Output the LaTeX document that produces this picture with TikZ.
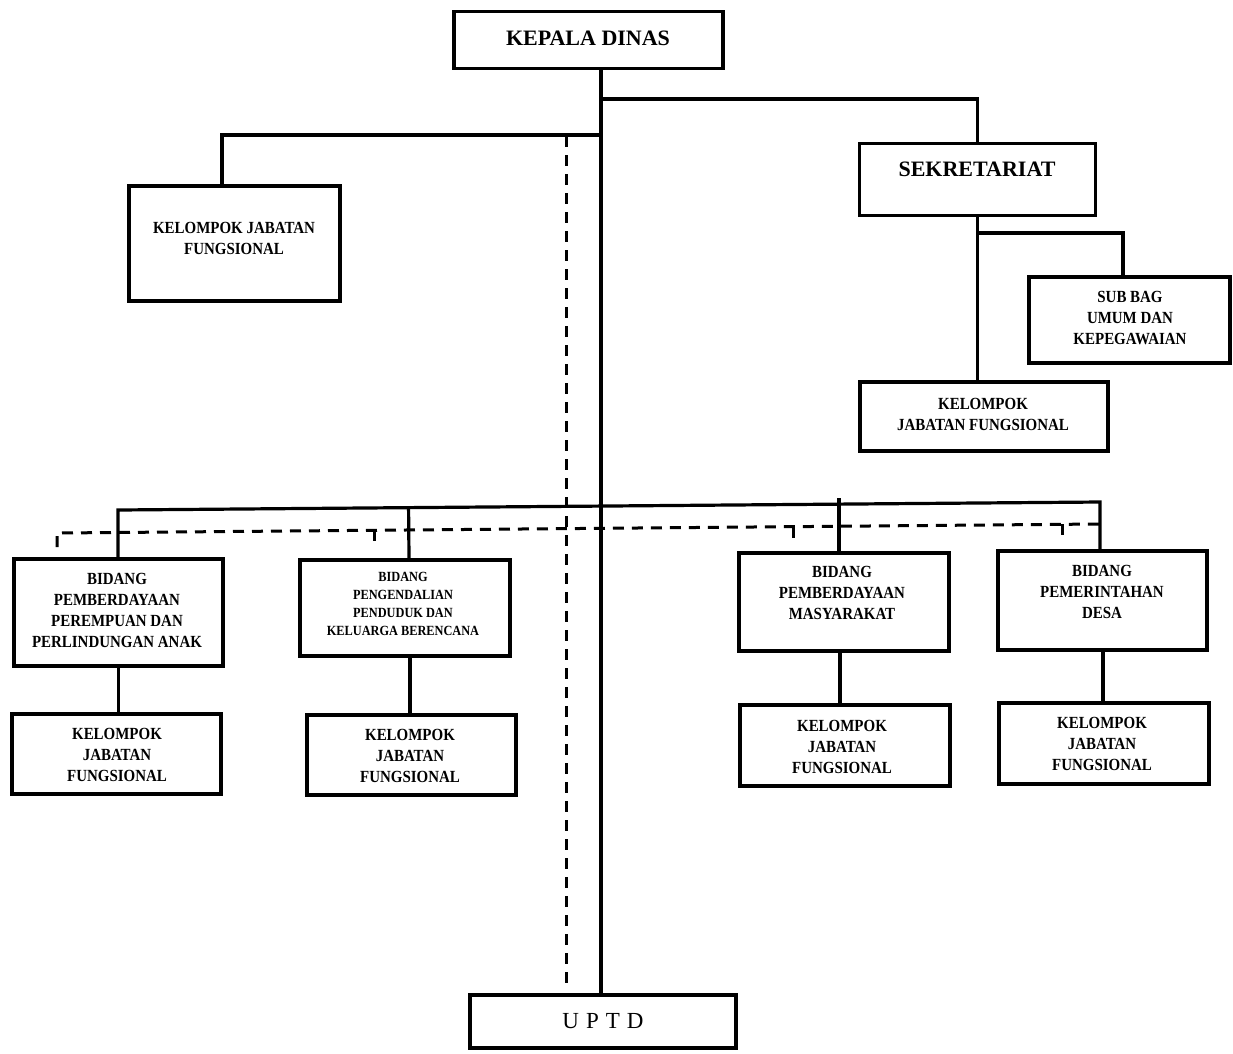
\documentclass[tikz,border=0pt]{standalone}
\usepackage{fontspec}
\setmainfont{Liberation Serif}
\newfontfamily\condfont{Liberation Serif}[FakeStretch=0.88]
\usetikzlibrary{calc}
\begin{document}
\begin{tikzpicture}[x=1pt,y=-1pt,
  box/.style={draw, line width=3.5pt, rectangle, inner sep=0pt},
  txt/.style={align=center, font=\condfont\bfseries\fontsize{17}{21}\selectfont, inner sep=0pt},
  smalltxt/.style={align=center, font=\condfont\bfseries\fontsize{14}{18}\selectfont, inner sep=0pt},
  bigtxt/.style={align=center, font=\bfseries\fontsize{22}{26}\selectfont, inner sep=0pt},
  con/.style={line width=3.2pt},
  dsh/.style={line width=3pt, dash pattern=on 11pt off 8pt}]
\useasboundingbox (0,0) rectangle (1233,1053);
% boxes
\node[box, minimum width=269pt, minimum height=57pt] (kd) at (588.5,40) {};
\node[bigtxt] (kdt) at (588,38) {KEPALA DINAS};
\node[box, minimum width=236pt, minimum height=72pt] (sek) at (977.5,179.5) {};
\node[bigtxt] (sekt) at (977,169) {SEKRETARIAT};
\node[box, minimum width=211pt, minimum height=115pt] (kjf0) at (234.5,243.5) {};
\node[txt] (kjf0t) at (234,238) {KELOMPOK JABATAN\\FUNGSIONAL};
\node[box, minimum width=201pt, minimum height=86pt] (sub) at (1129.5,320) {};
\node[txt] (subt) at (1130,318) {SUB BAG\\UMUM DAN\\KEPEGAWAIAN};
\node[box, minimum width=248pt, minimum height=69pt] (kjfs) at (984,416.5) {};
\node[txt] (kjfst) at (983,414) {KELOMPOK\\JABATAN FUNGSIONAL};
\node[box, minimum width=209pt, minimum height=107pt] (b1) at (118.5,612.5) {};
\node[txt] (b1t) at (117,610) {BIDANG\\PEMBERDAYAAN\\PEREMPUAN DAN\\PERLINDUNGAN ANAK};
\node[box, minimum width=210pt, minimum height=96pt] (b2) at (405,608) {};
\node[smalltxt] (b2t) at (403,604) {BIDANG\\PENGENDALIAN\\PENDUDUK DAN\\KELUARGA BERENCANA};
\node[box, minimum width=210pt, minimum height=98pt] (b3) at (844,602) {};
\node[txt] (b3t) at (842,593) {BIDANG\\PEMBERDAYAAN\\MASYARAKAT};
\node[box, minimum width=209pt, minimum height=99pt] (b4) at (1102.5,600.5) {};
\node[txt] (b4t) at (1102,592) {BIDANG\\PEMERINTAHAN\\DESA};
\node[box, minimum width=209pt, minimum height=80pt] (k1) at (116.5,754) {};
\node[txt] (k1t) at (117,755) {KELOMPOK\\JABATAN\\FUNGSIONAL};
\node[box, minimum width=209pt, minimum height=80pt] (k2) at (411.5,755) {};
\node[txt] (k2t) at (410,756) {KELOMPOK\\JABATAN\\FUNGSIONAL};
\node[box, minimum width=210pt, minimum height=81pt] (k3) at (845,745.5) {};
\node[txt] (k3t) at (842,747) {KELOMPOK\\JABATAN\\FUNGSIONAL};
\node[box, minimum width=210pt, minimum height=81pt] (k4) at (1104,743.5) {};
\node[txt] (k4t) at (1102,744) {KELOMPOK\\JABATAN\\FUNGSIONAL};
\node[box, minimum width=266pt, minimum height=53pt] (uptd) at (603,1021.5) {};
\node[align=center, inner sep=0pt, font=\fontsize{23}{26}\selectfont] (uptdt) at (603,1021) {U\hspace{7pt}P\hspace{7pt}T\hspace{7pt}D};
% trunk
\coordinate (trunk) at (601,0);
\draw[con] (kd.south -| trunk) -- (uptd.north -| trunk);
% sekretariat branch
\coordinate (jsek) at (601,99);
\draw[con] (jsek) -| (sek.north);
\coordinate (jkl) at (601,135);
\coordinate (kl) at (222,0);
\draw[con] (jkl) -| (kjf0.north -| kl);
\draw[con] (sek.south) -- (sek.south |- kjfs.north);
\coordinate (jsub) at (977.5,233);
\coordinate (sl) at (1123,0);
\draw[con] (jsub) -| (sub.north -| sl);
% bottom bus
\coordinate (busL) at (118,510);
\coordinate (busR) at (1100,502);
\draw[con] (b1.north -| busL) -- (busL) -- (busR) -- (b4.north -| busR);
\coordinate (x2) at (409,0);
\coordinate (t2) at (b2.north -| x2);
\draw[con] (t2) -- ($(busL)!(t2)!(busR)$);
\coordinate (x3) at (839,0);
\coordinate (t3) at (b3.north -| x3);
\coordinate (top3) at (839,498);
\draw[con] (t3) -- (top3);
% lower connectors
\draw[con] (b1.south) -- (b1.south |- k1.north);
\coordinate (x2b) at (410,0);
\draw[con] (b2.south -| x2b) -- (k2.north -| x2b);
\coordinate (x3b) at (840,0);
\draw[con] (b3.south -| x3b) -- (k3.north -| x3b);
\coordinate (x4b) at (1103,0);
\draw[con] (b4.south -| x4b) -- (k4.north -| x4b);
% dashed lines
\coordinate (dL) at (57,547);
\coordinate (dLc) at (57,533);
\coordinate (dR) at (1100,524);
\draw[dsh] (dL) -- (dLc) -- (dR);
\coordinate (d2a) at (374,530.3); \coordinate (d2b) at (374,547);
\draw[dsh] (d2a) -- (d2b);
\coordinate (d3a) at (793,526.6); \coordinate (d3b) at (793,541);
\draw[dsh] (d3a) -- (d3b);
\coordinate (d4a) at (1062,524.3); \coordinate (d4b) at (1062,540);
\draw[dsh] (d4a) -- (d4b);
\coordinate (dv1) at (566,136);
\coordinate (dv2) at (566,983);
\draw[dsh] (dv1) -- (dv2);
\end{tikzpicture}
\end{document}
